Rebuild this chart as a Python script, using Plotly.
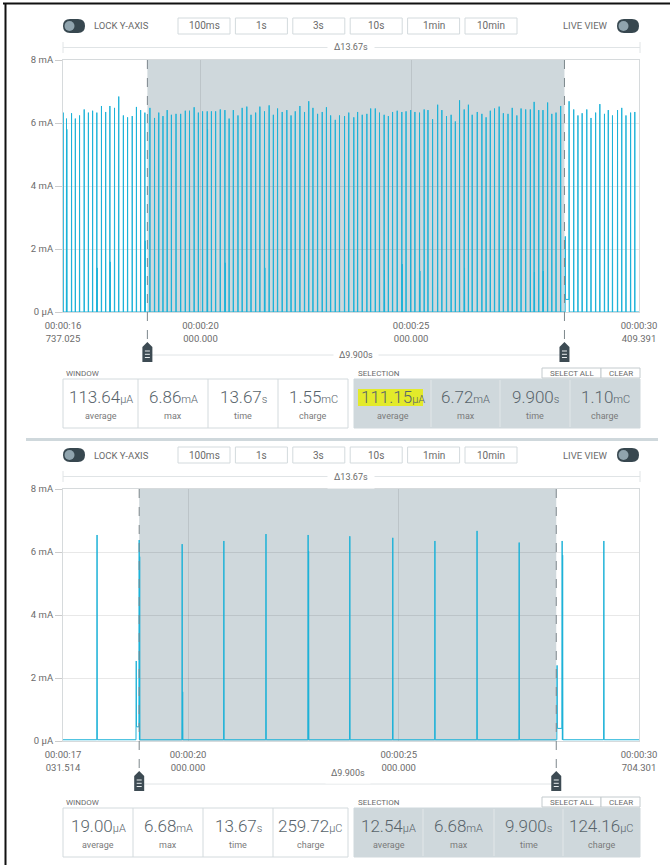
import plotly.graph_objects as go

W, H = 670, 865
FONT = "Roboto"

# ---------------- data ----------------
BUTTON_LABELS = ["100ms", "1s", "3s", "10s", "1min", "10min"]
Y_TICK_VALUES = [0, 2, 4, 6, 8]
Y_TICK_TEXT = ["0 μA", "2 mA", "4 mA", "6 mA", "8 mA"]

# ----- top panel -----
TOP_WINDOW = [16.737025, 30.409391]
TOP_SELECTION = [18.74, 28.64]
TOP_TICK_TIMES = [16.737025, 20.0, 25.0, 30.409391]
TOP_TICK_TEXT = ["00:00:16<br>737.025", "00:00:20<br>000.000",
                 "00:00:25<br>000.000", "00:00:30<br>409.391"]
TOP_WINDOW_DELTA = "Δ13.67s"
TOP_SELECTION_DELTA = "Δ9.900s"
TOP_PEAK_TIMES = [
    16.74, 16.82, 16.94, 17.03, 17.13, 17.24, 17.34, 17.44, 17.54, 17.65,
    17.75, 17.85, 17.96, 18.06, 18.17, 18.27, 18.38, 18.48, 18.58, 18.68,
    18.80, 18.91, 19.01, 19.11, 19.21, 19.31, 19.42, 19.53, 19.64, 19.74,
    19.85, 19.95, 20.05, 20.16, 20.26, 20.36, 20.47, 20.58, 20.68, 20.78,
    20.89, 20.99, 21.10, 21.20, 21.31, 21.41, 21.52, 21.63, 21.73, 21.83,
    21.94, 22.05, 22.15, 22.25, 22.36, 22.47, 22.57, 22.67, 22.78, 22.89,
    22.99, 23.09, 23.20, 23.30, 23.42, 23.52,
    23.64, 23.73, 23.84, 23.95, 24.04, 24.15, 24.25, 24.36, 24.46, 24.56,
    24.67, 24.78, 24.88, 24.99, 25.09, 25.20, 25.31, 25.40, 25.51, 25.63,
    25.73, 25.84, 25.95, 26.05, 26.15, 26.26, 26.36, 26.45, 26.57, 26.68,
    26.78, 26.88, 26.98, 27.09, 27.19, 27.30, 27.40, 27.51, 27.61, 27.72,
    27.83, 27.92, 28.03, 28.13, 28.24, 28.34, 28.44, 28.55,
    28.75, 28.86, 28.96, 29.06, 29.17, 29.27, 29.38, 29.48, 29.59, 29.68,
    29.78, 29.90, 30.00, 30.10, 30.21, 30.31]
TOP_PEAK_MA = [
    6.33, 6.14, 6.31, 6.14, 6.24, 6.43, 6.33, 6.39, 6.33, 6.54,
    6.35, 6.54, 6.48, 6.84, 6.24, 6.18, 6.22, 6.51, 6.41, 6.33,
    6.48, 6.16, 6.33, 6.22, 6.41, 6.26, 6.29, 6.29, 6.39, 6.39,
    6.50, 6.33, 6.37, 6.37, 6.37, 6.37, 6.43, 6.41, 6.14, 6.41,
    6.24, 6.48, 6.52, 6.26, 6.33, 6.52, 6.37, 6.56, 6.26, 6.46,
    6.35, 6.41, 6.24, 6.37, 6.54, 6.35, 6.69, 6.48, 6.29, 6.35,
    6.50, 6.24, 6.10, 6.24, 6.22, 6.33,
    6.18, 6.35, 6.26, 6.29, 6.46, 6.46, 6.33, 6.26, 6.22, 6.35,
    6.39, 6.35, 6.37, 6.41, 6.35, 6.33, 6.43, 6.41, 6.12, 6.58,
    6.41, 6.22, 6.26, 6.05, 6.72, 6.43, 6.58, 6.26, 6.35, 6.29,
    6.18, 6.39, 6.46, 6.52, 6.31, 6.29, 6.48, 6.24, 6.46, 6.43,
    6.43, 6.67, 6.41, 6.41, 6.65, 6.29, 6.33, 6.54,
    6.69, 6.43, 6.24, 6.31, 6.43, 6.16, 6.33, 6.60, 6.29, 6.41,
    6.24, 6.41, 6.48, 6.24, 6.33, 6.35]
TOP_SECOND_TIMES = [16.82, 17.54, 17.85, 18.68, 20.16, 20.58, 21.52,
                    24.36, 24.78, 25.20, 26.26, 27.92, 28.13]
TOP_SECOND_MA = [5.80, 1.40, 1.59, 2.26, 5.80, 1.56, 1.40,
                 1.33, 1.52, 1.30, 1.40, 1.27, 1.30]
TOP_WAKE_TIMES = [28.66]
TOP_WAKE_MA = [2.40]
TOP_WAKE_PLATEAU_MA = [0.40]
TOP_WINDOW_STATS = [("113.64", "μA", "average"), ("6.86", "mA", "max"),
                    ("13.67", "s", "time"), ("1.55", "mC", "charge")]
TOP_SELECTION_STATS = [("111.15", "μA", "average"), ("6.72", "mA", "max"),
                       ("9.900", "s", "time"), ("1.10", "mC", "charge")]

# ----- bottom panel -----
BOT_WINDOW = [17.031514, 30.704301]
BOT_SELECTION = [18.84, 28.74]
BOT_TICK_TIMES = [17.031514, 20.0, 25.0, 30.704301]
BOT_TICK_TEXT = ["00:00:17<br>031.514", "00:00:20<br>000.000",
                 "00:00:25<br>000.000", "00:00:30<br>704.301"]
BOT_WINDOW_DELTA = "Δ13.67s"
BOT_SELECTION_DELTA = "Δ9.900s"
BOT_PEAK_TIMES = [17.84, 18.84, 19.86, 20.85, 21.85, 22.85, 23.84,
                  24.86, 25.86, 26.86, 27.86, 28.88, 29.87]
BOT_PEAK_MA = [6.54, 6.38, 6.25, 6.35, 6.57, 6.54, 6.50,
               6.45, 6.35, 6.67, 6.30, 6.35, 6.35]
BOT_SECOND_TIMES = [18.84, 19.86, 22.85, 28.88]
BOT_SECOND_MA = [5.85, 1.56, 6.03, 5.90]
BOT_WAKE_TIMES = [18.77, 28.76]
BOT_WAKE_MA = [2.54, 2.40]
BOT_WAKE_PLATEAU_MA = [0.45, 0.40]
BOT_BASELINE_MA = 0.04
BOT_WINDOW_STATS = [("19.00", "μA", "average"), ("6.68", "mA", "max"),
                    ("13.67", "s", "time"), ("259.72", "μC", "charge")]
BOT_SELECTION_STATS = [("12.54", "μA", "average"), ("6.68", "mA", "max"),
                       ("9.900", "s", "time"), ("124.16", "μC", "charge")]

# ---------------- styling ----------------
TRACE_COLOR = "#1cb2d8"
SEL_FILL = "#cfd8dc"
DARK = "#37474f"
KNOB = "#90a4ae"
TXT = "#6b6b6b"
VAL = "#58646b"
BORDER = "#d3dadd"
HILITE = "#e3ea2a"

shapes, annos = [], []


def X(px):
    return px / W


def Y(py):
    return 1 - py / H


def text(px, py, s, size, color=TXT, xanchor="center", bg=None, pad=1, weight=None):
    f = dict(family=FONT, size=size, color=color)
    if weight:
        f["weight"] = weight
    a = dict(x=X(px), y=Y(py), xref="paper", yref="paper", text=s,
             showarrow=False, xanchor=xanchor, yanchor="middle", font=f)
    if bg:
        a.update(bgcolor=bg, borderpad=pad)
    annos.append(a)


def rect(x0, y0, x1, y1, line=BORDER, fill="white", width=1):
    shapes.append(dict(type="rect", xref="paper", yref="paper",
                       x0=X(x0), x1=X(x1), y0=Y(y1), y1=Y(y0),
                       line=dict(color=line, width=width), fillcolor=fill))


def seg(x0, y0, x1, y1, color, width=1):
    shapes.append(dict(type="line", xref="paper", yref="paper",
                       x0=X(x0), x1=X(x1), y0=Y(y0), y1=Y(y1),
                       line=dict(color=color, width=width)))


def rrect(x0, y0, x1, y1, r, fill):
    def p(x, y):
        return f"{X(x):.6f},{Y(y):.6f}"
    path = (f"M{p(x0 + r, y0)} L{p(x1 - r, y0)} Q{p(x1, y0)} {p(x1, y0 + r)} "
            f"L{p(x1, y1 - r)} Q{p(x1, y1)} {p(x1 - r, y1)} L{p(x0 + r, y1)} "
            f"Q{p(x0, y1)} {p(x0, y1 - r)} L{p(x0, y0 + r)} Q{p(x0, y0)} {p(x0 + r, y0)} Z")
    shapes.append(dict(type="path", xref="paper", yref="paper", path=path,
                       fillcolor=fill, line=dict(width=0)))


def circle(cx, cy, r, fill):
    shapes.append(dict(type="circle", xref="paper", yref="paper",
                       x0=X(cx - r), x1=X(cx + r), y0=Y(cy + r), y1=Y(cy - r),
                       fillcolor=fill, line=dict(width=0)))


def toggle(x0, cy):
    rrect(x0, cy - 7, x0 + 22, cy + 7, 7, DARK)
    circle(x0 + 6.5, cy, 5, KNOB)


def build_line(window, times, values, sec_t, sec_v, wake_t, wake_v, wake_p, base, d):
    second = {round(t, 2): v for t, v in zip(sec_t, sec_v)}
    wakes = list(zip(wake_t, wake_v, wake_p))
    xs, ys = [window[0]], [base]
    for t, h in zip(times, values):
        for w in wakes:
            if 0 < t - w[0] < 0.15:
                xs += [w[0] - d, w[0], w[0] + d, t - d]
                ys += [base, w[1], w[2], w[2]]
                break
        else:
            xs.append(t - d)
            ys.append(base)
        xs += [t, t + d]
        ys += [h, base]
        if round(t, 2) in second:
            xs += [t + 2 * d, t + 3 * d]
            ys += [second[round(t, 2)], base]
    xs.append(window[1])
    ys.append(base)
    return xs, ys


fig = go.Figure()


def panel(idx, dy, window, selection, tick_t, tick_txt, wdelta, sdelta,
          line_xy, win_stats, sel_stats, win_edges, sel_edges, hl):
    xname = "x" if idx == 1 else f"x{idx}"
    yname = "y" if idx == 1 else f"y{idx}"
    xk = "xaxis" if idx == 1 else f"xaxis{idx}"
    yk = "yaxis" if idx == 1 else f"yaxis{idx}"
    top, bot = 60 + dy, 312 + dy

    # header row
    toggle(63, 26 + dy)
    text(92, 26 + dy, "LOCK Y-AXIS", 9.5, xanchor="left")
    for i, lab in enumerate(BUTTON_LABELS):
        bx = 178 + i * 57.4
        rect(bx, 18 + dy, bx + 52, 34 + dy, line=BORDER)
        text(bx + 26, 26 + dy, lab, 10)
    text(610, 26 + dy, "LIVE VIEW", 9.5, xanchor="right")
    toggle(617, 26 + dy)

    # window delta bracket
    seg(63, 47.5 + dy, 640, 47.5 + dy, "#e0e4e6")
    seg(63, 42 + dy, 63, 53 + dy, "#e0e4e6")
    seg(640, 42 + dy, 640, 53 + dy, "#e0e4e6")
    text(351.5, 47.5 + dy, wdelta, 9, bg="white", pad=6)

    # selection shading
    shapes.append(dict(type="rect", xref=xname, yref=yname, layer="below",
                       x0=selection[0], x1=selection[1], y0=0, y1=8,
                       fillcolor=SEL_FILL, line=dict(width=0)))

    # trace
    fig.add_trace(go.Scatter(x=line_xy[0], y=line_xy[1], mode="lines",
                             xaxis=xname, yaxis=yname, hoverinfo="skip",
                             line=dict(color=TRACE_COLOR, width=1, simplify=False)))

    axis_common = dict(showgrid=True, gridcolor="rgba(0,0,0,0.09)", zeroline=False,
                       showline=True, mirror=True, linecolor="#d6dadc",
                       tickfont=dict(family=FONT, size=9.5, color=TXT),
                       fixedrange=True, automargin=False)
    fig.layout[xk] = dict(domain=[X(63), X(639)], range=window, anchor=yname,
                          tickmode="array", tickvals=tick_t, ticktext=tick_txt,
                          ticks="", ticklabelstandoff=5, **axis_common)
    fig.layout[yk] = dict(domain=[Y(bot), Y(top)], range=[0, 8], anchor=xname,
                          tickmode="array", tickvals=Y_TICK_VALUES,
                          ticktext=Y_TICK_TEXT, ticks="outside", ticklen=7,
                          tickcolor="#cccccc", **axis_common)

    # selection delta line, dashed markers and handles
    shapes.append(dict(type="line", xref=xname, yref="paper",
                       x0=selection[0], x1=selection[1],
                       y0=Y(355 + dy), y1=Y(355 + dy),
                       line=dict(color="#e0e4e6", width=1)))
    for s in selection:
        shapes.append(dict(type="line", xref=xname, yref="paper",
                           x0=s, x1=s, y0=Y(top), y1=Y(343 + dy),
                           line=dict(color="#7d878c", width=1, dash="dash")))
        shapes.append(dict(type="path", xref=xname, yref="paper",
                           xsizemode="pixel", ysizemode="pixel",
                           xanchor=s, yanchor=Y(362 + dy),
                           path="M-5,0 L5,0 L5,15 L0,20 L-5,15 Z",
                           fillcolor="#3d4b53", line=dict(width=0)))
        for hy in (4.5, 7.7, 11):
            shapes.append(dict(type="line", xref=xname, yref="paper",
                               xsizemode="pixel", ysizemode="pixel",
                               xanchor=s, yanchor=Y(362 + dy),
                               x0=-2.5, x1=2.5, y0=hy, y1=hy,
                               line=dict(color="#e8ecee", width=1)))
    annos.append(dict(x=(selection[0] + selection[1]) / 2, y=Y(355 + dy),
                      xref=xname, yref="paper", text=sdelta, showarrow=False,
                      font=dict(family=FONT, size=9, color=TXT),
                      bgcolor="white", borderpad=5))

    # stats boxes
    text(64, 373 + dy, "WINDOW", 8, xanchor="left")
    rect(win_edges[0], 379 + dy, win_edges[-1], 428 + dy, line=BORDER)
    for e in win_edges[1:-1]:
        seg(e, 379 + dy, e, 428 + dy, BORDER)
    text(sel_edges[0] + 2, 373 + dy, "SELECTION", 8, xanchor="left")
    rect(sel_edges[0], 379 + dy, sel_edges[-1], 428 + dy, line=SEL_FILL, fill=SEL_FILL)
    for e in sel_edges[1:-1]:
        seg(e, 380 + dy, e, 427 + dy, "#e2e7e9")
    rect(542, 368 + dy, 601, 378 + dy, line="#c4cbce")
    rect(601, 368 + dy, 640, 378 + dy, line="#c4cbce")
    text(571.5, 373 + dy, "SELECT ALL", 8)
    rect(hl[0], hl[1] + dy, hl[2], hl[3] + dy, line=HILITE, fill=HILITE, width=0)
    text(620.5, 373 + dy, "CLEAR", 8)
    for edges, stats in ((win_edges, win_stats), (sel_edges, sel_stats)):
        for i, (v, u, lab) in enumerate(stats):
            cx = (edges[i] + edges[i + 1]) / 2
            text(cx, 397 + dy,
                 f"{v}<span style='font-size:11px'>{u}</span>", 17,
                 color=VAL, weight=300)
            text(cx, 416 + dy, lab, 9, color="#7a7a7a")


top_xy = build_line(TOP_WINDOW, TOP_PEAK_TIMES, TOP_PEAK_MA, TOP_SECOND_TIMES,
                    TOP_SECOND_MA, TOP_WAKE_TIMES, TOP_WAKE_MA, TOP_WAKE_PLATEAU_MA,
                    0.0, 0.004)
bot_xy = build_line(BOT_WINDOW, BOT_PEAK_TIMES, BOT_PEAK_MA, BOT_SECOND_TIMES,
                    BOT_SECOND_MA, BOT_WAKE_TIMES, BOT_WAKE_MA, BOT_WAKE_PLATEAU_MA,
                    BOT_BASELINE_MA, 0.006)

panel(1, 0, TOP_WINDOW, TOP_SELECTION, TOP_TICK_TIMES, TOP_TICK_TEXT,
      TOP_WINDOW_DELTA, TOP_SELECTION_DELTA, top_xy,
      TOP_WINDOW_STATS, TOP_SELECTION_STATS,
      [63, 138, 208, 278, 348], [354, 431, 500, 570, 640], (358, 389, 423, 406))
panel(2, 429, BOT_WINDOW, BOT_SELECTION, BOT_TICK_TIMES, BOT_TICK_TEXT,
      BOT_WINDOW_DELTA, BOT_SELECTION_DELTA, bot_xy,
      BOT_WINDOW_STATS, BOT_SELECTION_STATS,
      [63, 133, 203, 273, 348], [354, 423, 494, 563, 640], (360, 818, 417, 835))

# panel separator and outer frame
seg(26, 439.5, 658, 439.5, "#cfd8dc", 3)
seg(3, 3.5, 670, 3.5, "#111111", 2)
seg(5.5, 3, 5.5, 865, "#111111", 2)

fig.update_layout(width=W, height=H,
                  margin=dict(l=0, r=0, t=0, b=0, pad=0, autoexpand=False),
                  paper_bgcolor="white", plot_bgcolor="white",
                  showlegend=False, shapes=shapes, annotations=annos,
                  font=dict(family=FONT))
fig.write_html("out.html",
               config={"responsive": False, "displayModeBar": False},
               post_script="document.body.style.margin='0';"
                           "document.body.style.padding='0';"
                           "document.body.style.overflow='hidden';")
